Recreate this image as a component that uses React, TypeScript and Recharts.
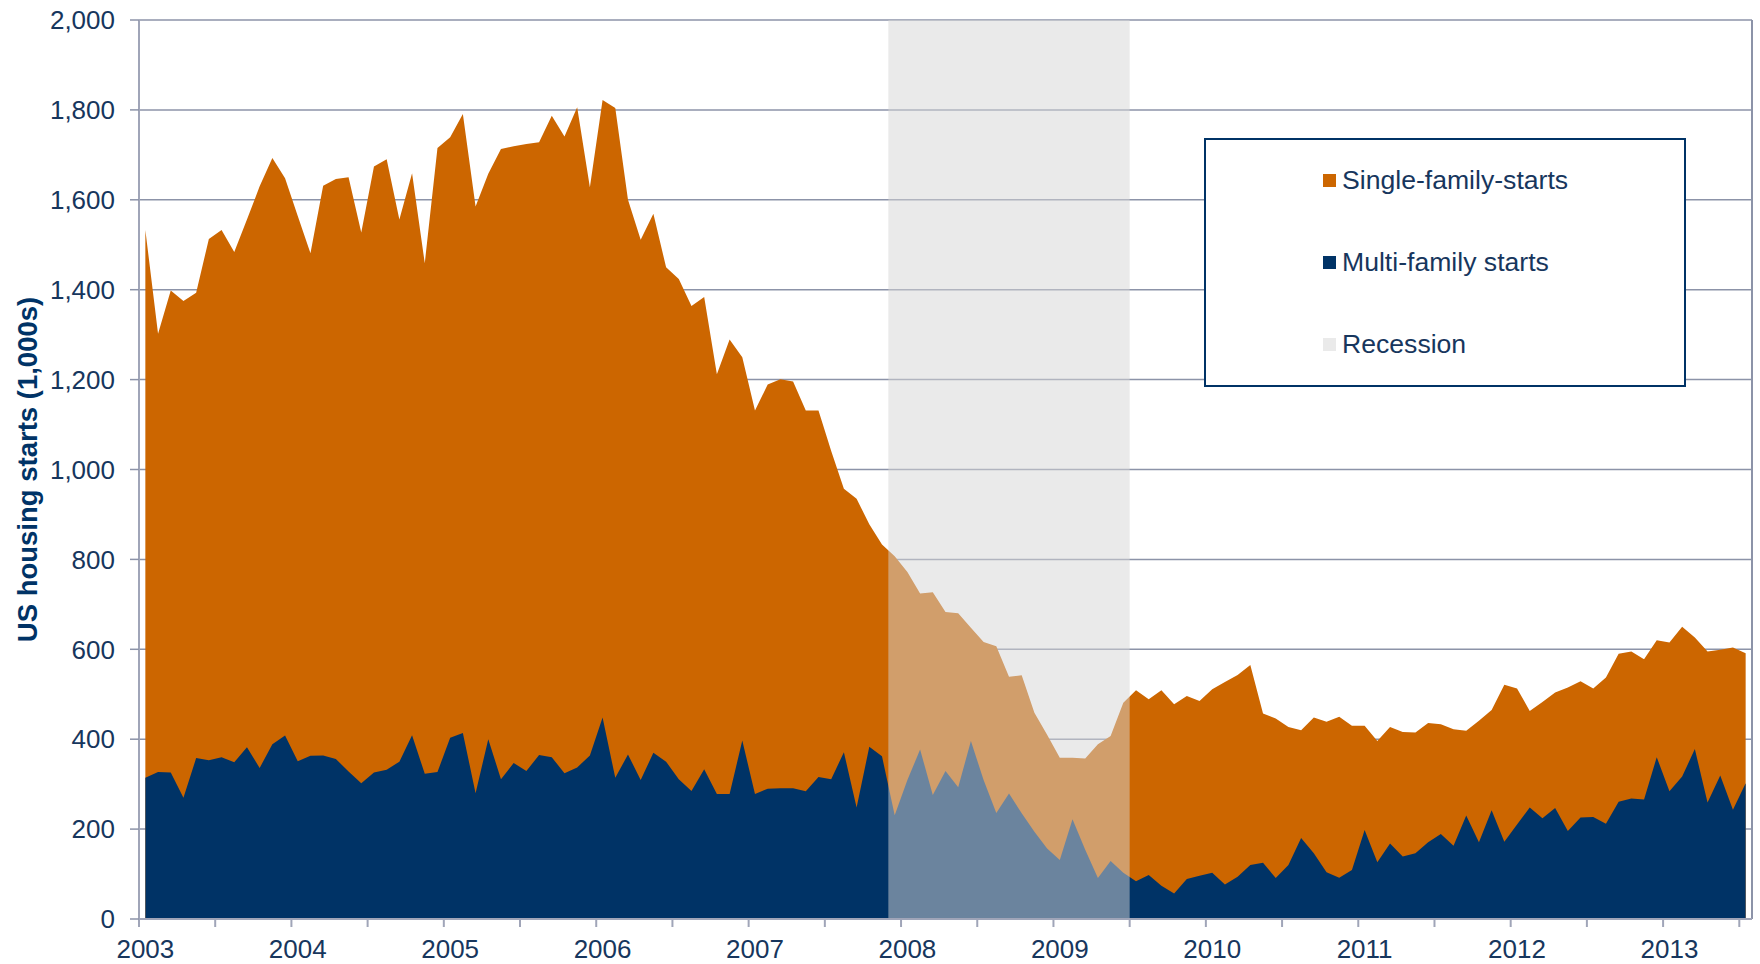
import React from "react";
import {
  AreaChart,
  Area,
  XAxis,
  YAxis,
  CartesianGrid,
  ReferenceArea,
  ReferenceLine,
  Legend,
} from "recharts";

// monthly starts, Jan 2003 .. Jul 2013 (thousands, SAAR)
const singleFamily = [
  1533, 1302, 1398, 1375, 1393, 1513, 1533, 1484, 1556, 1630, 1693, 1648,
  1564, 1481, 1631, 1646, 1650, 1527, 1674, 1690, 1556, 1659, 1459, 1715,
  1739, 1791, 1585, 1658, 1713, 1719, 1724, 1728, 1787, 1741, 1806, 1628,
  1822, 1804, 1600, 1511, 1569, 1450, 1424, 1364, 1384, 1212, 1289, 1250,
  1131, 1189, 1201, 1196, 1131, 1131, 1041, 957, 935, 878, 833, 807,
  772, 724, 727, 683, 680, 648, 616, 607, 539, 542, 459, 410,
  359, 359, 357, 389, 407, 481, 509, 489, 509, 478, 496, 485,
  511, 527, 543, 565, 457, 446, 427, 420, 448, 439, 450, 430,
  430, 396, 427, 416, 415, 436, 433, 422, 419, 441, 465, 521,
  513, 463, 483, 504, 515, 529, 513, 537, 590, 595, 578, 620,
  615, 650, 626, 595, 599, 604, 591,
];

const multiFamily = [
  314, 327, 326, 270, 358, 353, 360, 349, 382, 336, 389, 408,
  351, 363, 364, 356, 328, 302, 326, 332, 350, 409, 323, 327,
  403, 414, 280, 400, 311, 347, 329, 365, 360, 324, 337, 364,
  448, 314, 366, 309, 370, 350, 311, 285, 333, 278, 278, 397,
  278, 290, 291, 291, 284, 316, 311, 371, 248, 383, 362, 231,
  309, 377, 276, 329, 293, 396, 309, 236, 279, 235, 194, 157,
  131, 222, 154, 91, 129, 103, 84, 98, 74, 57, 89, 96,
  103, 77, 94, 120, 125, 91, 120, 180, 146, 104, 92, 109,
  198, 126, 168, 139, 146, 171, 189, 163, 230, 171, 242, 172,
  210, 248, 224, 247, 196, 226, 227, 212, 261, 268, 266, 360,
  284, 317, 378, 259, 319, 243, 302,
];

const firstYear = 2003;
const yearLabels = [
  "2003", "2004", "2005", "2006", "2007", "2008",
  "2009", "2010", "2011", "2012", "2013",
];
const yTicks = [0, 200, 400, 600, 800, 1000, 1200, 1400, 1600, 1800, 2000];

const recessionStart = "2007-12";
const recessionEnd = "2009-06";

const ORANGE = "#CC6600";
const NAVY = "#003366";
const TEXT = "#17365D";
const GRID = "#8C93A8";
const FONT = "Arial, 'Liberation Sans', sans-serif";

const legendItems = [
  { label: "Single-family-starts", color: ORANGE },
  { label: "Multi-family starts", color: NAVY },
  { label: "Recession", color: "#EAEAEA" },
];

const monthIndex = (s: string) => {
  const [y, m] = s.split("-").map(Number);
  return (y - firstYear) * 12 + (m - 1);
};

const nMonths = singleFamily.length;
const data = singleFamily.map((v, i) => ({
  t: i + 0.5,
  single: v,
  multi: multiFamily[i],
}));

const halfYearTicks: number[] = [];
for (let m = 0; m < nMonths; m += 6) halfYearTicks.push(m);
const yearTicks = yearLabels.map((_, k) => k * 12 + 0.5);

const renderLegend = () => (
  <div
    style={{
      width: 482,
      height: 249,
      boxSizing: "border-box",
      border: `2px solid ${NAVY}`,
      background: "#fff",
      display: "flex",
      flexDirection: "column",
      justifyContent: "center",
      paddingLeft: 117,
      fontFamily: FONT,
    }}
  >
    {legendItems.map((it) => (
      <div
        key={it.label}
        style={{ height: 83, display: "flex", alignItems: "center" }}
      >
        <span
          style={{
            width: 13,
            height: 13,
            background: it.color,
            marginRight: 6,
            display: "inline-block",
          }}
        />
        <span style={{ fontSize: 26.6, color: TEXT }}>{it.label}</span>
      </div>
    ))}
  </div>
);

const YTitle = ({ viewBox }: any) => {
  const cx = viewBox.x + 27;
  const cy = viewBox.y + viewBox.height / 2;
  return (
    <text
      x={cx}
      y={cy}
      transform={`rotate(-90, ${cx}, ${cy})`}
      textAnchor="middle"
      dominantBaseline="central"
      fill={NAVY}
      fontSize={27.5}
      fontWeight="bold"
      fontFamily={FONT}
    >
      US housing starts (1,000s)
    </text>
  );
};

export default function App() {
  return (
    <div style={{ position: "absolute", left: 0, top: 0, background: "#fff" }}>
      <AreaChart
        width={1760}
        height={964}
        data={data}
        margin={{ top: 20, right: 8, bottom: 0, left: 0 }}
      >
        <CartesianGrid
          horizontal={true}
          vertical={false}
          stroke={GRID}
          strokeWidth={1.5}
        />
        <Area
          type="linear"
          dataKey="single"
          name="Single-family-starts"
          stroke="none"
          fill={ORANGE}
          fillOpacity={1}
          dot={false}
          activeDot={false}
          isAnimationActive={false}
        />
        <Area
          type="linear"
          dataKey="multi"
          name="Multi-family starts"
          stroke="none"
          fill={NAVY}
          fillOpacity={1}
          dot={false}
          activeDot={false}
          isAnimationActive={false}
        />
        <ReferenceArea
          x1={monthIndex(recessionStart)}
          x2={monthIndex(recessionEnd) + 1}
          y1={0}
          y2={2000}
          fill="#D5D5D5"
          fillOpacity={0.5}
          stroke="none"
          zIndex={150}
        />
        <ReferenceLine x={nMonths} stroke={GRID} strokeWidth={2} />
        <XAxis
          type="number"
          dataKey="t"
          domain={[0, nMonths]}
          ticks={halfYearTicks}
          interval={0}
          tickFormatter={() => ""}
          height={8}
          tickSize={8}
          axisLine={{ stroke: "#A0A5B8", strokeWidth: 2 }}
          tickLine={{ stroke: "#A0A5B8", strokeWidth: 2 }}
        />
        <XAxis
          xAxisId="labels"
          type="number"
          dataKey="t"
          domain={[0, nMonths]}
          ticks={yearTicks}
          interval={0}
          tickFormatter={(v: number) => yearLabels[Math.round((v - 0.5) / 12)]}
          height={37}
          tickSize={0}
          tickMargin={13}
          axisLine={false}
          tickLine={false}
          tick={{ fill: TEXT, fontSize: 26, fontFamily: FONT }}
        />
        <YAxis
          type="number"
          domain={[0, 2000]}
          ticks={yTicks}
          interval={0}
          width={139}
          tickSize={9}
          tickMargin={15}
          tickFormatter={(v: number) => v.toLocaleString("en-US")}
          axisLine={{ stroke: "#A0A5B8", strokeWidth: 2 }}
          tickLine={{ stroke: GRID, strokeWidth: 1.5 }}
          tick={{ fill: TEXT, fontSize: 26, fontFamily: FONT }}
          label={<YTitle />}
        />
        <Legend
          layout="vertical"
          align="center"
          verticalAlign="middle"
          content={renderLegend}
          wrapperStyle={{ left: 1204, top: 138, width: 482, height: 249 }}
        />
      </AreaChart>
    </div>
  );
}
